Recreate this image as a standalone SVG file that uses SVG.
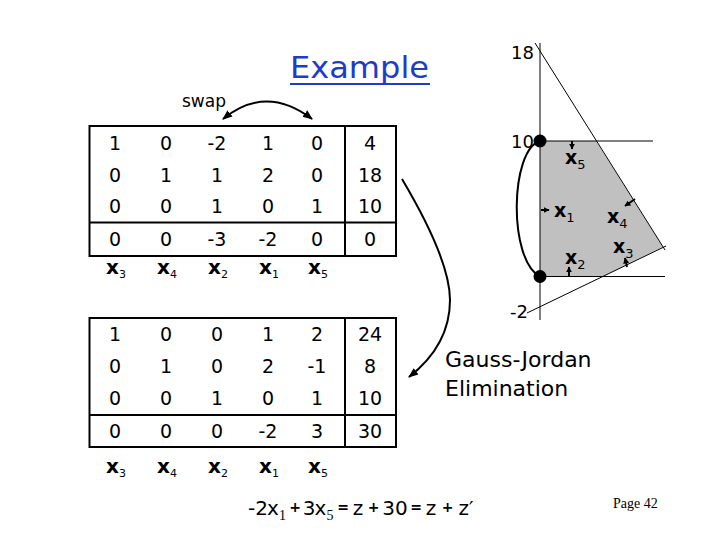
<svg xmlns="http://www.w3.org/2000/svg" width="720" height="540" viewBox="0 0 720 540">
<style>
.t{font-family:"DejaVu Sans","Liberation Sans",sans-serif;font-size:19px;fill:#000;text-anchor:middle}
.lx{font-family:"DejaVu Sans","Liberation Sans",sans-serif;font-size:20px;font-weight:bold;fill:#000}
.sb{font-family:"DejaVu Sans","Liberation Sans",sans-serif;font-size:11px;font-weight:normal;fill:#000}
.gx{font-family:"DejaVu Sans","Liberation Sans",sans-serif;font-size:19px;font-weight:bold;fill:#000}
.gs{font-family:"DejaVu Sans","Liberation Sans",sans-serif;font-size:13px;font-weight:normal;fill:#000}
.ax{font-family:"DejaVu Sans","Liberation Sans",sans-serif;font-size:18px;fill:#000}
.eq{font-family:"DejaVu Sans","Liberation Sans",sans-serif;font-size:20px;fill:#000;text-anchor:middle}
.eo{font-family:"DejaVu Sans","Liberation Sans",sans-serif;font-size:14px;font-weight:bold;fill:#000;text-anchor:middle}
.es{font-family:"Liberation Serif","Times New Roman",serif;font-size:14px;fill:#000;text-anchor:middle}
.box{fill:none;stroke:#000;stroke-width:2}
.thin{fill:none;stroke:#000;stroke-width:1}
.conn{fill:none;stroke:#000;stroke-width:2}
.sm{fill:none;stroke:#000;stroke-width:2}
</style>
<defs>
<marker id="ah" viewBox="0 0 10 10" refX="9" refY="5" markerWidth="5" markerHeight="5" orient="auto-start-reverse" markerUnits="strokeWidth">
<path d="M0,1 L10,5 L0,9 z" fill="#000"/>
</marker>
<marker id="ahs" viewBox="0 0 10 10" refX="9" refY="5" markerWidth="3" markerHeight="3" orient="auto" markerUnits="strokeWidth">
<path d="M0,0 L10,5 L0,10 z" fill="#000"/>
</marker>
</defs>
<rect width="720" height="540" fill="#fff"/>

<g id="title">
<text x="290" y="78" font-family="DejaVu Sans,Liberation Sans,sans-serif" font-size="31" fill="#1e3cc8" textLength="139" lengthAdjust="spacingAndGlyphs">Example</text>
<line x1="290" y1="84" x2="430" y2="84" stroke="#1e3cc8" stroke-width="2"/>
</g>

<g id="swap-label">
<text x="182" y="107" font-family="DejaVu Sans,Liberation Sans,sans-serif" font-size="18" fill="#000" textLength="44" lengthAdjust="spacingAndGlyphs">swap</text>
</g>

<g id="tableau1">
<rect class="box" x="89.5" y="126" width="306.5" height="130"/>
<line class="box" x1="345" y1="126" x2="345" y2="256"/>
<line class="box" x1="89.5" y1="222.5" x2="396" y2="222.5"/>
<g class="t">
<text x="115" y="149.5">1</text><text x="166" y="149.5">0</text><text x="217" y="149.5">-2</text><text x="268" y="149.5">1</text><text x="317" y="149.5">0</text><text x="370" y="149.5">4</text>
<text x="115" y="182">0</text><text x="166" y="182">1</text><text x="217" y="182">1</text><text x="268" y="182">2</text><text x="317" y="182">0</text><text x="370" y="182">18</text>
<text x="115" y="213">0</text><text x="166" y="213">0</text><text x="217" y="213">1</text><text x="268" y="213">0</text><text x="317" y="213">1</text><text x="370" y="213">10</text>
<text x="115" y="246">0</text><text x="166" y="246">0</text><text x="217" y="246">-3</text><text x="268" y="246">-2</text><text x="317" y="246">0</text><text x="370" y="246">0</text>
</g>
<text class="lx" x="106" y="274">x<tspan class="sb" dy="4">3</tspan></text>
<text class="lx" x="157" y="274">x<tspan class="sb" dy="4">4</tspan></text>
<text class="lx" x="208" y="274">x<tspan class="sb" dy="4">2</tspan></text>
<text class="lx" x="259" y="274">x<tspan class="sb" dy="4">1</tspan></text>
<text class="lx" x="308" y="274">x<tspan class="sb" dy="4">5</tspan></text>
</g>

<g id="tableau2">
<rect class="box" x="89.5" y="318" width="306.5" height="129"/>
<line class="box" x1="345" y1="318" x2="345" y2="447"/>
<line class="box" x1="89.5" y1="415" x2="396" y2="415"/>
<g class="t">
<text x="115" y="341">1</text><text x="166" y="341">0</text><text x="217" y="341">0</text><text x="268" y="341">1</text><text x="317" y="341">2</text><text x="370" y="341">24</text>
<text x="115" y="372.5">0</text><text x="166" y="372.5">1</text><text x="217" y="372.5">0</text><text x="268" y="372.5">2</text><text x="317" y="372.5">-1</text><text x="370" y="372.5">8</text>
<text x="115" y="404.5">0</text><text x="166" y="404.5">0</text><text x="217" y="404.5">1</text><text x="268" y="404.5">0</text><text x="317" y="404.5">1</text><text x="370" y="404.5">10</text>
<text x="115" y="437.5">0</text><text x="166" y="437.5">0</text><text x="217" y="437.5">0</text><text x="268" y="437.5">-2</text><text x="317" y="437.5">3</text><text x="370" y="437.5">30</text>
</g>
<text class="lx" x="106" y="473">x<tspan class="sb" dy="4">3</tspan></text>
<text class="lx" x="157" y="473">x<tspan class="sb" dy="4">4</tspan></text>
<text class="lx" x="208" y="473">x<tspan class="sb" dy="4">2</tspan></text>
<text class="lx" x="259" y="473">x<tspan class="sb" dy="4">1</tspan></text>
<text class="lx" x="308" y="473">x<tspan class="sb" dy="4">5</tspan></text>
</g>

<g id="graph">
<polygon points="540,141 596,141 663,247 603,276.5 540,276.5" fill="#c0c0c0"/>
<line class="thin" x1="540" y1="43" x2="540" y2="320"/>
<line class="thin" x1="540" y1="141" x2="653" y2="141"/>
<line class="thin" x1="540" y1="276.5" x2="665" y2="276.5"/>
<line class="thin" x1="535" y1="43" x2="665" y2="250"/>
<line class="thin" x1="527" y1="313" x2="666" y2="246"/>
<circle cx="540" cy="141" r="6.5" fill="#000"/>
<circle cx="540" cy="276.5" r="6.5" fill="#000"/>
<text class="ax" x="511" y="59">18</text>
<text class="ax" x="511" y="148">10</text>
<text class="ax" x="510" y="318">-2</text>
<text class="gx" x="565" y="164">x<tspan class="gs" dy="5">5</tspan></text>
<text class="gx" x="554" y="217">x<tspan class="gs" dy="5">1</tspan></text>
<text class="gx" x="607" y="223">x<tspan class="gs" dy="5">4</tspan></text>
<text class="gx" x="613" y="253">x<tspan class="gs" dy="5">3</tspan></text>
<text class="gx" x="565" y="264">x<tspan class="gs" dy="5">2</tspan></text>
</g>

<g id="gauss-jordan-label">
<text x="445" y="367" font-family="DejaVu Sans,Liberation Sans,sans-serif" font-size="22" fill="#000">Gauss-Jordan</text>
<text x="445" y="396" font-family="DejaVu Sans,Liberation Sans,sans-serif" font-size="22" fill="#000">Elimination</text>
</g>

<g id="objective">
<text class="eq" x="258" y="515">-2</text>
<text class="eq" x="273" y="515">x</text>
<text class="es" x="282.5" y="520">1</text>
<text class="eo" x="295" y="512">+</text>
<text class="eq" x="309" y="515">3</text>
<text class="eq" x="320.5" y="515">x</text>
<text class="es" x="330" y="520">5</text>
<text class="eo" x="343" y="512">=</text>
<text class="eq" x="358" y="515">z</text>
<text class="eo" x="373.5" y="512">+</text>
<text class="eq" x="395" y="515">30</text>
<text class="eo" x="416" y="512">=</text>
<text class="eq" x="431" y="515">z</text>
<text class="eo" x="447.5" y="512">+</text>
<text class="eq" x="466" y="515">z′</text>
</g>

<g id="page-number">
<text x="613" y="508" font-family="Liberation Serif,Times New Roman,serif" font-size="14" fill="#000">Page 42</text>
</g>

<g id="connectors">
<path class="conn" d="M223,119 Q266,84 312,119" marker-start="url(#ah)" marker-end="url(#ah)"/>
<path class="conn" d="M402,179 Q450,260 450,300 Q450,345 409,377" marker-end="url(#ah)"/>
<path class="conn" d="M540,141 C510,150 508,260 540,276.5"/>
<line class="sm" x1="572" y1="141" x2="572" y2="149" marker-end="url(#ahs)"/>
<line class="sm" x1="541" y1="210" x2="549" y2="210" marker-end="url(#ahs)"/>
<line class="sm" x1="569" y1="276" x2="569" y2="267" marker-end="url(#ahs)"/>
<line class="sm" x1="635" y1="199" x2="625" y2="206" marker-end="url(#ahs)"/>
<line class="sm" x1="627" y1="267" x2="625" y2="258" marker-end="url(#ahs)"/>
</g>
</svg>
